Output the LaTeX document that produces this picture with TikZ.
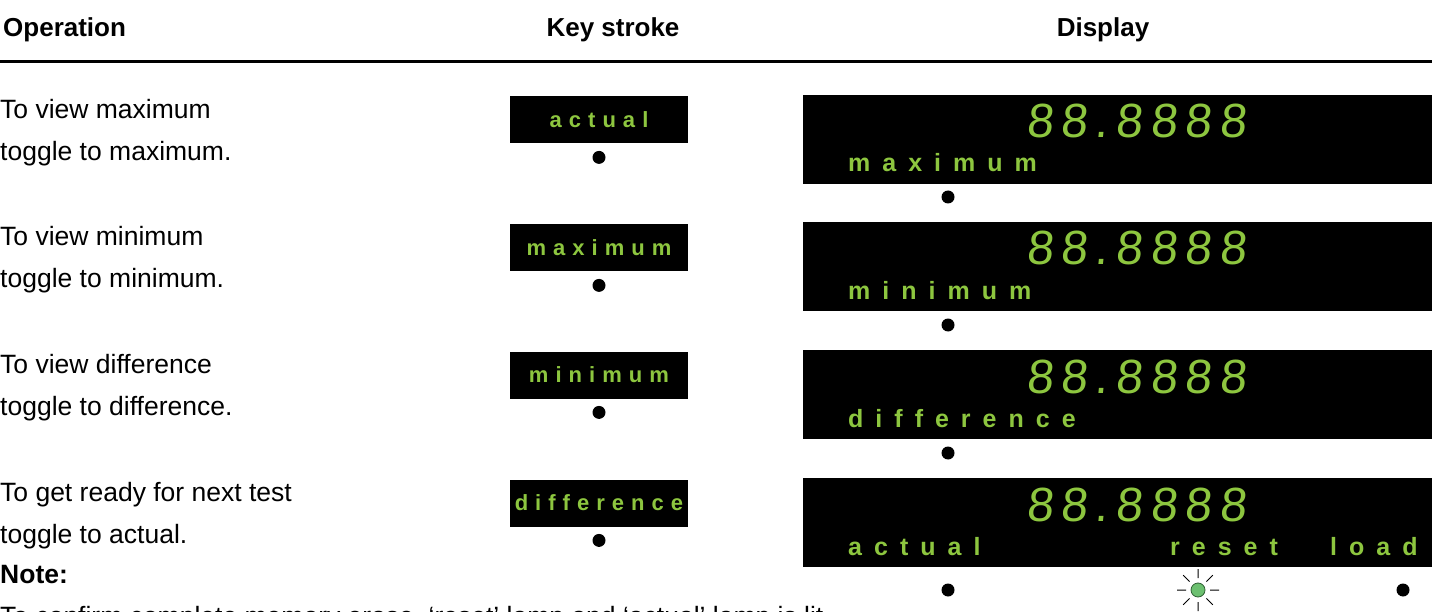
\documentclass[tikz,border=0pt]{standalone}
\usepackage{fontspec}
\setmainfont{Liberation Sans}
\newfontfamily\keyfont{Liberation Sans}[LetterSpace=32]
\newfontfamily\lblfont{Liberation Sans}[LetterSpace=48]
\newfontfamily\lcdfont{Liberation Sans}[LetterSpace=16]
\usetikzlibrary{positioning}
\definecolor{lcdgreen}{HTML}{8DC63F}
\definecolor{lampgreen}{HTML}{6CC070}
\definecolor{lampedge}{HTML}{2E5E33}

\begin{document}
\begin{tikzpicture}[x=1pt,y=-1pt,
  font=\fontsize{26.5}{31}\selectfont,
  head/.style={font=\fontsize{26}{31}\selectfont\bfseries,anchor=base,inner sep=0pt},
  optext/.style={anchor=base west,inner sep=0pt},
  keybox/.style={fill=black,minimum width=178pt,minimum height=47pt,inner sep=0pt,text=lcdgreen,font=\keyfont\fontsize{22}{26}\selectfont\bfseries},
  screen/.style={fill=black,minimum width=629pt,minimum height=89pt,inner sep=0pt,anchor=north west},
  digits/.style={text=lcdgreen,font=\lcdfont\fontsize{48}{52}\selectfont,anchor=base east,inner sep=0pt,xslant=0.1},
  lbl/.style={text=lcdgreen,font=\lblfont\fontsize{25}{29}\selectfont\bfseries,anchor=base west,inner sep=0pt},
  dot/.style={circle,fill=black,minimum size=13pt,inner sep=0pt},
  lamp/.style={circle,draw=lampedge,fill=lampgreen,minimum size=14pt,inner sep=0pt,line width=0.8pt},
  ray/.style={line width=1pt,draw=black}
]
\useasboundingbox (0,0) rectangle (1432,612);

% header
\node[head,anchor=base west] (hop) at (3,37) {Operation};
\node[head] (hkey) at (613,37) {Key stroke};
\node[head] (hdisp) at (1103,37) {Display};
\draw[line width=3pt] (0,62) -- (1432,62);

% operations
\node[optext] (op1a) at (0,118.5) {To view maximum};
\node[optext] (op1b) at (0,160.5) {toggle to maximum.};
\node[optext] (op2a) at (0,246) {To view minimum};
\node[optext] (op2b) at (0,288) {toggle to minimum.};
\node[optext] (op3a) at (0,373.5) {To view difference};
\node[optext] (op3b) at (0,415.5) {toggle to difference.};
\node[optext] (op4a) at (0,501) {To get ready for next test};
\node[optext] (op4b) at (0,543) {toggle to actual.};
\node[optext,font=\fontsize{26.5}{31}\selectfont\bfseries] (note) at (0,583) {Note:};
\node[optext] (notetext) at (0,625) {To confirm complete memory erase, ‘reset’ lamp and ‘actual’ lamp is lit.};

% key strokes
\node[keybox] (key1) at (599,120) {actual};
\node[keybox] (key2) at (599,248) {maximum};
\node[keybox] (key3) at (599,375) {minimum};
\node[keybox] (key4) at (599,503) {difference};
\node[dot,below=7pt of key1] (kdot1) {};
\node[dot,below=7pt of key2] (kdot2) {};
\node[dot,below=7pt of key3] (kdot3) {};
\node[dot,below=7pt of key4] (kdot4) {};

% displays
\node[screen] (scr1) at (803,95) {};
\node[screen] (scr2) at (803,222) {};
\node[screen] (scr3) at (803,350) {};
\node[screen] (scr4) at (803,478) {};

\node[digits] (num1) at (1246,138) {88.8888};
\node[digits] (num2) at (1246,265) {88.8888};
\node[digits] (num3) at (1246,393) {88.8888};
\node[digits] (num4) at (1246,521) {88.8888};

\node[lbl] (lbl1) at (848,172) {maximum};
\node[lbl] (lbl2) at (848,299) {minimum};
\node[lbl] (lbl3) at (848,427) {difference};
\node[lbl] (lbl4a) at (848,555) {actual};
\node[lbl] (lbl4b) at (1170,555) {reset};
\node[lbl] (lbl4c) at (1330,555) {load};

\node[dot] (ddot1) at (948,197) {};
\node[dot] (ddot2) at (948,325) {};
\node[dot] (ddot3) at (948,453) {};
\node[dot] (ldot1) at (948,590) {};
\node[lamp] (ldot2) at (1198,590) {};
\node[dot] (ldot3) at (1403,590) {};

% lit lamp
\draw[ray] ([shift={(0:12pt)}]ldot2.center) -- ([shift={(0:21pt)}]ldot2.center)
  ([shift={(45:12pt)}]ldot2.center) -- ([shift={(45:21pt)}]ldot2.center)
  ([shift={(90:12pt)}]ldot2.center) -- ([shift={(90:21pt)}]ldot2.center)
  ([shift={(135:12pt)}]ldot2.center) -- ([shift={(135:21pt)}]ldot2.center)
  ([shift={(180:12pt)}]ldot2.center) -- ([shift={(180:21pt)}]ldot2.center)
  ([shift={(225:12pt)}]ldot2.center) -- ([shift={(225:21pt)}]ldot2.center)
  ([shift={(270:12pt)}]ldot2.center) -- ([shift={(270:21pt)}]ldot2.center)
  ([shift={(315:12pt)}]ldot2.center) -- ([shift={(315:21pt)}]ldot2.center);
\end{tikzpicture}
\end{document}
